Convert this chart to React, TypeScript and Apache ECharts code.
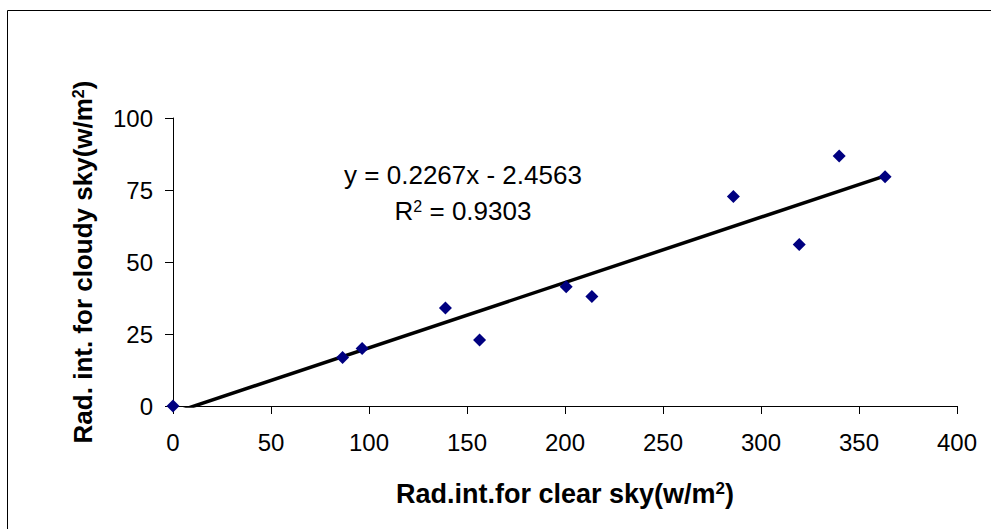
import React, { useEffect, useRef } from "react";
import * as echarts from "echarts";

const clearSky = [0, 86.5, 96.5, 139, 156.4, 200.6, 213.7, 285.9, 319.5, 339.9, 363.3];
const cloudySky = [0, 16.8, 20.0, 34.0, 22.9, 41.4, 38.0, 72.7, 56.1, 86.8, 79.6];
const trendSlope = 0.2267;
const trendIntercept = -2.4563;
const rSquared = 0.9303;
const xTicks = [0, 50, 100, 150, 200, 250, 300, 350, 400];
const yTicks = [0, 25, 50, 75, 100];

const FONT = "'Liberation Sans', Arial, Helvetica, sans-serif";

export default function App() {
  const ref = useRef<HTMLDivElement>(null);
  useEffect(() => {
    if (!ref.current) return;
    const chart = echarts.init(ref.current, undefined, { renderer: "svg" });
    const points = clearSky.map((x, i) => [x, cloudySky[i]]);
    const xMax = Math.max(...clearSky);
    const trend = [
      [0, trendIntercept],
      [xMax, trendSlope * xMax + trendIntercept],
    ];
    const nameRich = (size: number) => ({
      b: { fontSize: size, fontWeight: "bold", color: "#000", fontFamily: FONT },
      s: { fontSize: Math.round(size * 0.62), fontWeight: "bold", color: "#000", fontFamily: FONT, verticalAlign: "top", padding: [0, 0, 10, 0] },
    });
    chart.setOption({
      animation: false,
      backgroundColor: "#ffffff",
      textStyle: { fontFamily: FONT },
      grid: { left: 173, right: 34, top: 118, bottom: 123, containLabel: false },
      xAxis: {
        type: "value",
        min: xTicks[0],
        max: xTicks[xTicks.length - 1],
        interval: 50,
        splitLine: { show: false },
        axisLine: { lineStyle: { color: "#000", width: 1 } },
        axisTick: { show: true, length: 8, lineStyle: { color: "#000" } },
        axisLabel: { color: "#000", fontSize: 24, margin: 24, fontFamily: FONT },
        name: "{b|Rad.int.for clear sky(w/m}{s|2}{b|)}",
        nameLocation: "middle",
        nameGap: 74,
        nameTextStyle: { rich: nameRich(27) },
      },
      yAxis: {
        type: "value",
        min: yTicks[0],
        max: yTicks[yTicks.length - 1],
        interval: 25,
        splitLine: { show: false },
        axisLine: { show: true, lineStyle: { color: "#000", width: 1 } },
        axisTick: { show: true, length: 8, lineStyle: { color: "#000" } },
        axisLabel: { color: "#000", fontSize: 24, margin: 20, fontFamily: FONT },
        name: "{b|Rad. int. for cloudy sky(w/m}{s|2}{b|)}",
        nameLocation: "middle",
        nameGap: 77,
        nameRotate: 90,
        nameTextStyle: { rich: nameRich(26) },
      },
      graphic: [
        {
          type: "rect",
          shape: { x: 7.5, y: 10.5, width: 1100, height: 700 },
          style: { fill: "none", stroke: "#000", lineWidth: 1 },
          silent: true,
          z: -1,
        },
        {
          type: "text",
          x: 463,
          y: 175,
          style: {
            text: "y = " + trendSlope.toFixed(4) + "x - " + Math.abs(trendIntercept).toFixed(4),
            font: "26px " + FONT,
            fill: "#000",
            align: "center",
            verticalAlign: "middle",
          },
        },
        {
          type: "text",
          x: 463,
          y: 211,
          style: {
            text: "{r|R}{s|2}{r| = " + rSquared.toFixed(4) + "}",
            align: "center",
            verticalAlign: "middle",
            rich: {
              r: { fontSize: 26, fontFamily: FONT, fill: "#000" },
              s: { fontSize: 16, fontFamily: FONT, fill: "#000", verticalAlign: "top", padding: [0, 0, 10, 0] },
            },
          },
        },
      ],
      series: [
        {
          type: "scatter",
          data: points,
          symbol: "diamond",
          symbolSize: 13,
          itemStyle: { color: "#000080", opacity: 1 },
          z: 3,
        },
        {
          type: "line",
          data: trend,
          showSymbol: false,
          symbol: "none",
          clip: true,
          lineStyle: { color: "#000", width: 3.5 },
          z: 2,
        },
      ],
    });
    return () => chart.dispose();
  }, []);
  return (
    <div
      ref={ref}
      style={{ position: "absolute", left: 0, top: 0, width: 991, height: 529 }}
    />
  );
}
